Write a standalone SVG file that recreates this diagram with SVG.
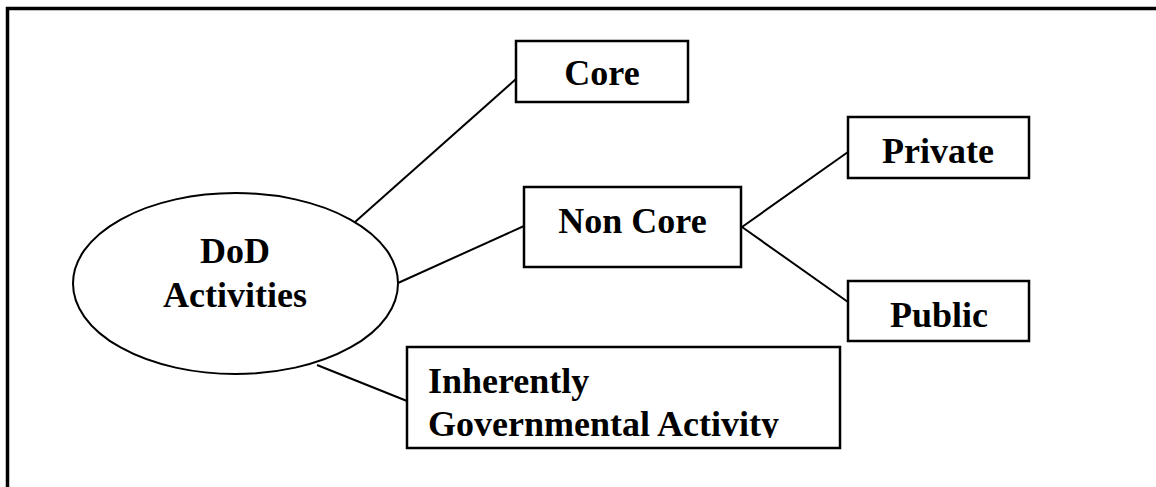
<svg xmlns="http://www.w3.org/2000/svg" width="1156" height="487" viewBox="0 0 1156 487">
<style>
.box{fill:#fff;stroke:#000;stroke-width:2.5}
.lbl{font-family:"Liberation Serif","Times New Roman",serif;font-weight:bold;font-size:36px;fill:#000}
.c{text-anchor:middle}
.conn line{stroke:#000;stroke-width:2}
</style>
<defs>
<clipPath id="clipInh"><rect x="407" y="347" width="433" height="91"/></clipPath>
</defs>
<rect x="0" y="0" width="1156" height="487" fill="#fff"/>
<path d="M7.5 487 V8.5 H1156" fill="none" stroke="#000" stroke-width="3.5"/>
<g id="connectors" class="conn">
<line x1="355" y1="222" x2="516" y2="79"/>
<line x1="398" y1="283" x2="524" y2="226"/>
<line x1="742" y1="227" x2="848" y2="152"/>
<line x1="742" y1="227" x2="848" y2="302"/>
<line x1="317" y1="365" x2="407" y2="401"/>
</g>
<g id="dod">
<ellipse cx="235.5" cy="283.5" rx="162.5" ry="90.5" fill="#fff" stroke="#000" stroke-width="2"/>
<text class="lbl c" x="235" y="263">DoD</text>
<text class="lbl c" x="235" y="307">Activities</text>
</g>
<g id="core">
<rect class="box" x="516" y="41" width="172" height="61"/>
<text class="lbl c" x="602" y="85">Core</text>
</g>
<g id="noncore">
<rect class="box" x="524" y="187" width="217" height="80"/>
<text class="lbl c" x="632.5" y="233">Non Core</text>
</g>
<g id="private">
<rect class="box" x="848" y="117" width="181" height="61"/>
<text class="lbl c" x="938" y="163">Private</text>
</g>
<g id="public">
<rect class="box" x="848" y="281" width="181" height="60"/>
<text class="lbl c" x="939" y="327">Public</text>
</g>
<g id="inherently">
<rect class="box" x="407" y="347" width="433" height="101"/>
<g clip-path="url(#clipInh)">
<text class="lbl" x="428" y="393">Inherently</text>
<text class="lbl" x="428" y="436">Governmental Activity</text>
</g>
</g>
</svg>
